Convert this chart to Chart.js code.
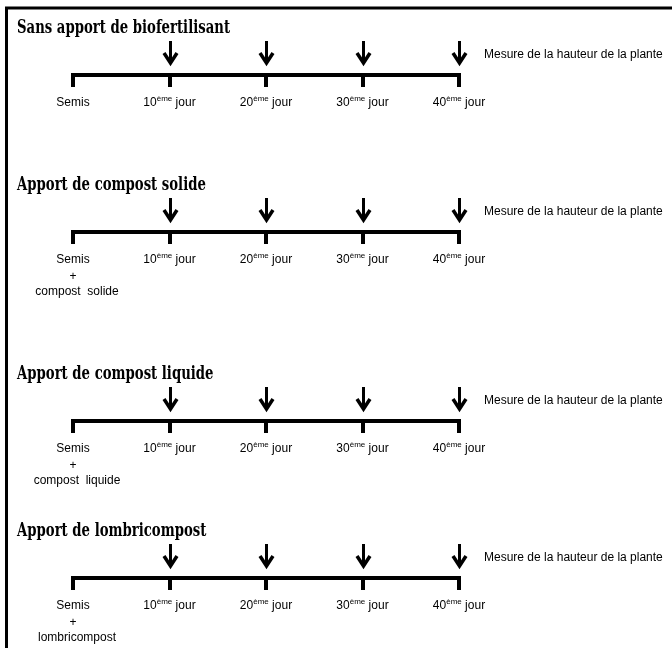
<!DOCTYPE html>
<html>
<head>
<meta charset="utf-8">
<script src="https://cdn.jsdelivr.net/npm/chart.js@4"></script>
<style>
html,body{margin:0;padding:0;background:#fff;}
#c{display:block;}
</style>
</head>
<body>
<canvas id="c" width="672" height="648"></canvas>
<script>
// ---- Data ----
const panelTitles = [
  'Sans apport de biofertilisant',
  'Apport de compost solide',
  'Apport de compost liquide',
  'Apport de lombricompost'
];
const startLine2 = ['', 'compost  solide', 'compost  liquide', 'lombricompost'];
const days = [0, 10, 20, 30, 40];
const tickMain = ['Semis', '10', '20', '30', '40'];
const tickSup = ['', 'ème', 'ème', 'ème', 'ème'];
const tickRest = ['', ' jour', ' jour', ' jour', ' jour'];
const measureDays = [10, 20, 30, 40];
const measureLabel = 'Mesure de la hauteur de la plante';

// ---- Layout (not data) ----
const rowLineY = [75, 232, 421, 578];
const pxPerDay = 9.65, originPx = 73, W = 672, H = 648;
const xMin = -originPx / pxPerDay, xMax = xMin + W / pxPerDay;

const datasets = rowLineY.map((ry, i) => ({
  label: panelTitles[i],
  data: [days[0], days[days.length - 1]].map(d => ({x: d, y: ry})),
  showLine: true,
  borderColor: '#000',
  borderWidth: 4,
  borderCapStyle: 'butt',
  pointRadius: 0,
  pointHoverRadius: 0
}));

const diagram = {
  id: 'diagram',
  beforeDraw(chart) {
    const ctx = chart.ctx;
    ctx.save();
    ctx.fillStyle = '#fff';
    ctx.fillRect(0, 0, chart.width, chart.height);
    ctx.restore();
  },
  afterDatasetsDraw(chart) {
    const ctx = chart.ctx;
    const xs = chart.scales.x, ys = chart.scales.y;
    ctx.save();
    // frame
    ctx.strokeStyle = '#000';
    ctx.lineWidth = 3;
    ctx.beginPath();
    ctx.moveTo(6.5, H);
    ctx.lineTo(6.5, 8);
    ctx.lineTo(W, 8);
    ctx.stroke();

    // title scale
    ctx.font = 'bold 18px "DejaVu Serif"';
    const titleScale = 213 / ctx.measureText(panelTitles[0]).width;

    rowLineY.forEach((ry, i) => {
      const yLine = ys.getPixelForValue(ry);
      // title
      ctx.save();
      ctx.font = 'bold 18px "DejaVu Serif"';
      ctx.fillStyle = '#000';
      ctx.textAlign = 'left';
      ctx.textBaseline = 'alphabetic';
      ctx.translate(17, yLine - 42);
      ctx.scale(titleScale, 1);
      ctx.fillText(panelTitles[i], 0, 0);
      ctx.restore();

      // ticks
      ctx.fillStyle = '#000';
      days.forEach(d => {
        const px = xs.getPixelForValue(d);
        ctx.fillRect(Math.round(px) - 2, yLine - 2, 4, 14);
      });

      // arrows
      ctx.strokeStyle = '#000';
      measureDays.forEach(d => {
        const px = Math.round(xs.getPixelForValue(d)) + 0.5;
        ctx.lineWidth = 3;
        ctx.beginPath();
        ctx.moveTo(px, yLine - 34);
        ctx.lineTo(px, yLine - 12);
        ctx.stroke();
        ctx.lineWidth = 3.5;
        ctx.beginPath();
        ctx.lineJoin = 'miter';
        ctx.moveTo(px - 6.5, yLine - 22);
        ctx.lineTo(px, yLine - 12);
        ctx.lineTo(px + 6.5, yLine - 22);
        ctx.stroke();
      });

      // measure label
      const lastPx = xs.getPixelForValue(measureDays[measureDays.length - 1]);
      ctx.font = '12px "Liberation Sans", Arial, sans-serif';
      ctx.textBaseline = 'middle';
      ctx.textAlign = 'left';
      ctx.fillText(measureLabel, lastPx + 25, yLine - 20);

      // tick labels
      days.forEach((d, k) => {
        const px = xs.getPixelForValue(d);
        ctx.font = '12px "Liberation Sans", Arial, sans-serif';
        const w1 = ctx.measureText(tickMain[k]).width;
        const w3 = ctx.measureText(tickRest[k]).width;
        ctx.font = '8px "Liberation Sans", Arial, sans-serif';
        const w2 = ctx.measureText(tickSup[k]).width;
        let x0 = px - (w1 + w2 + w3) / 2;
        const ty = yLine + 27;
        ctx.textAlign = 'left';
        ctx.textBaseline = 'alphabetic';
        ctx.font = '12px "Liberation Sans", Arial, sans-serif';
        ctx.fillText(tickMain[k], x0, ty + 4);
        ctx.font = '8px "Liberation Sans", Arial, sans-serif';
        ctx.fillText(tickSup[k], x0 + w1, ty - 1);
        ctx.font = '12px "Liberation Sans", Arial, sans-serif';
        ctx.fillText(tickRest[k], x0 + w1 + w2, ty + 4);
      });
      if (startLine2[i]) {
        const px = xs.getPixelForValue(days[0]);
        ctx.font = '12px "Liberation Sans", Arial, sans-serif';
        ctx.textAlign = 'center';
        ctx.textBaseline = 'middle';
        ctx.fillText('+', px, yLine + 45);
        ctx.fillText(startLine2[i], px + 4, yLine + 60);
      }
    });
    ctx.restore();
  }
};

new Chart(document.getElementById('c'), {
  type: 'scatter',
  data: {datasets},
  options: {
    responsive: false,
    animation: false,
    devicePixelRatio: 1,
    layout: {padding: 0},
    plugins: {legend: {display: false}, tooltip: {enabled: false}},
    events: [],
    scales: {
      x: {type: 'linear', min: xMin, max: xMax, display: false},
      y: {type: 'linear', min: 0, max: H, reverse: true, display: false}
    }
  },
  plugins: [diagram]
});
</script>
</body>
</html>
